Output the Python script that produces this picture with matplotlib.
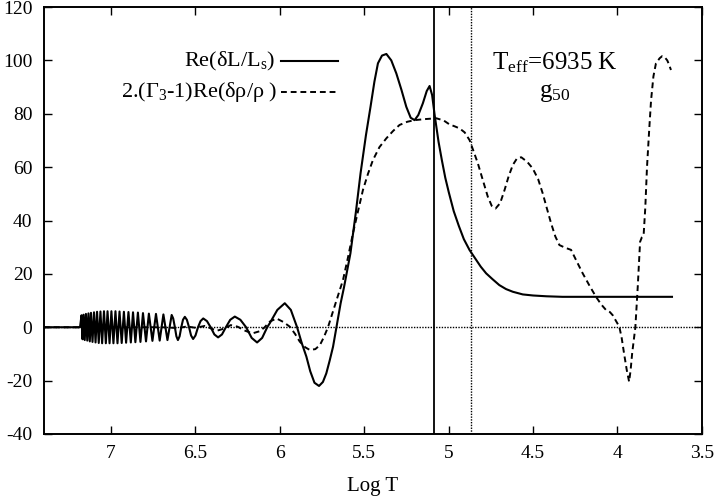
import numpy as np
import matplotlib
matplotlib.use('Agg')
import matplotlib.pyplot as plt

plt.rcParams['font.family'] = ['Liberation Serif', 'DejaVu Serif']
plt.rcParams['mathtext.fontset'] = 'custom'
plt.rcParams['mathtext.rm'] = 'Liberation Serif'
plt.rcParams['mathtext.it'] = 'Liberation Serif:italic'
plt.rcParams['axes.unicode_minus'] = False

# Re(dL/L) - solid curve
logt_L = [7.397, 7.19, 7.184,
          7.175, 7.169, 7.163, 7.156, 7.149, 7.141, 7.134, 7.126, 7.119, 7.110,
          7.101, 7.092, 7.083, 7.073, 7.063, 7.053, 7.042, 7.031, 7.021, 7.009,
          6.998, 6.986, 6.974, 6.962, 6.950, 6.937, 6.924, 6.911, 6.897, 6.883,
          6.870, 6.856, 6.841, 6.826, 6.811, 6.793, 6.776, 6.755, 6.734, 6.712,
          6.690, 6.666,
          6.641, 6.632, 6.622, 6.613, 6.604, 6.594, 6.584, 6.574, 6.563, 6.551,
          6.538, 6.526, 6.514, 6.500, 6.485, 6.470, 6.454, 6.432, 6.41, 6.388,
          6.366, 6.343, 6.32, 6.294, 6.267, 6.234, 6.20, 6.167, 6.135, 6.105,
          6.075, 6.06, 6.015, 5.971, 5.935, 5.898, 5.87, 5.843, 5.82, 5.795,
          5.768, 5.745, 5.725, 5.705, 5.685, 5.665, 5.64, 5.62, 5.582, 5.55,
          5.522, 5.49, 5.463, 5.44, 5.419, 5.395, 5.369, 5.34, 5.310, 5.28,
          5.251, 5.225, 5.202, 5.18, 5.153, 5.13, 5.113, 5.098, 5.083, 5.06,
          5.04, 5.02, 4.999, 4.97, 4.94, 4.91, 4.876, 4.84, 4.81, 4.778,
          4.74, 4.70, 4.66, 4.62, 4.561, 4.50, 4.42, 4.326, 3.677]
re_L = [0.0, 0.0, 0.0,
        4.5, -4.5, 4.7, -4.8, 5.0, -5.0, 5.2, -5.3, 5.4, -5.5,
        5.6, -5.7, 5.8, -5.9, 5.9, -6.0, 6.0, -6.0, 6.0, -6.0,
        6.0, -6.0, 6.0, -6.0, 5.9, -5.9, 5.8, -5.8, 5.7, -5.7,
        5.6, -5.6, 5.5, -5.5, 5.3, -5.3, 5.1, -5.1, 5.0, -5.0,
        4.8, -4.8,
        4.6, 3.3, 0.0, -3.4, -4.8, -3.4, 0.0, 2.8, 3.9, 2.8,
        0.0, -3.1, -4.4, -3.1, 0.0, 2.3, 3.3, 2.3, 0.0, -2.7,
        -3.8, -2.7, 0.0, 2.8, 4.0, 2.8, 0.0, -4.0, -5.7, -4.0,
        0.0, 1.5, 6.5, 9.0, 6.5, 0.0, -6.0, -11.0, -16.5, -20.8,
        -22.0, -20.5, -17.3, -12.5, -7.3, 0.0, 9.0, 15.0, 27.7, 43.0,
        57.7, 72.0, 82.6, 92.0, 98.9, 101.8, 102.4, 100.0, 95.1, 89.0,
        82.6, 78.5, 77.6, 79.5, 83.9, 88.5, 90.4, 87.0, 79.5, 69.5,
        62.5, 56.0, 50.5, 43.5, 38.0, 33.0, 28.9, 25.5, 22.7, 20.2,
        18.0, 15.8, 14.3, 13.3, 12.3, 11.9, 11.6, 11.4, 11.4]

# 2(G3-1)Re(drho/rho) - dashed curve
logt_rho = [7.397, 6.70, 6.60, 6.551, 6.50, 6.444, 6.41, 6.373, 6.33, 6.291,
            6.25, 6.21, 6.163, 6.12, 6.09, 6.06, 6.02, 5.98, 5.941, 5.91,
            5.882, 5.85, 5.823, 5.79, 5.763, 5.74, 5.715, 5.69, 5.66, 5.626,
            5.597, 5.567, 5.537, 5.508, 5.478, 5.449, 5.41, 5.369, 5.33, 5.291,
            5.245, 5.202, 5.14, 5.073, 5.03, 4.995, 4.965, 4.935, 4.905, 4.876,
            4.85, 4.827, 4.797, 4.768, 4.745, 4.722, 4.695, 4.669, 4.645, 4.620,
            4.595, 4.570, 4.535, 4.502, 4.47, 4.443, 4.418, 4.393, 4.368, 4.344,
            4.31, 4.275, 4.24, 4.206, 4.165, 4.127, 4.097, 4.067, 4.045, 4.028,
            4.01, 3.989, 3.975, 3.961, 3.945, 3.931, 3.922, 3.913, 3.894, 3.88,
            3.866, 3.855, 3.845, 3.835, 3.825, 3.812, 3.801, 3.787, 3.772, 3.75,
            3.735, 3.723, 3.705, 3.695, 3.683]
re_rho = [0.0, 0.0, -0.3, 0.3, -0.2, 0.5, -0.4, -1.3, -0.5, 0.8,
          0.2, -1.2, -2.3, -1.5, 0.0, 2.1, 3.3, 2.0, 0.2, -2.5,
          -5.4, -7.5, -8.5, -8.2, -6.7, -3.8, 0.0, 5.0, 11.0, 17.7,
          26.0, 35.2, 43.5, 51.4, 57.5, 62.6, 67.5, 70.8, 73.5, 75.8,
          77.0, 77.6, 78.0, 78.3, 77.5, 76.0, 75.3, 74.5, 73.0, 70.1,
          65.5, 61.4, 55.0, 48.9, 45.5, 44.5, 46.5, 51.4, 56.5, 60.8,
          63.3, 63.7, 62.0, 59.5, 55.5, 50.2, 44.5, 38.9, 34.0, 30.8,
          29.8, 29.0, 24.5, 20.2, 15.5, 11.4, 8.6, 6.4, 5.7, 4.5,
          2.5, 0.2, -4.0, -9.8, -16.0, -20.4, -16.0, -9.8, 0.0, 15.0,
          32.0, 33.8, 34.5, 45.0, 60.0, 74.0, 85.0, 94.0, 98.9, 100.8,
          101.6, 101.4, 100.0, 98.5, 96.4]

v_solid = 5.089
v_dotted = 4.866

fig = plt.figure(figsize=(7.14, 5.0), dpi=100)
ax = fig.add_axes([0.061, 0.132, 0.922, 0.854])

ax.axhline(0, color='black', lw=1.0, ls=(0, (1, 1)))
ax.axvline(v_solid, color='black', lw=1.3)
ax.axvline(v_dotted, color='black', lw=1.0, ls=(0, (1, 1)))

ax.plot(logt_L, re_L, color='black', lw=1.5)
ax.plot(logt_rho, re_rho, color='black', lw=1.4, ls=(0, (3, 2)))

ax.set_xlim(7.4, 3.5)
ax.set_ylim(-40, 120)
ax.set_xticks([7, 6.5, 6, 5.5, 5, 4.5, 4, 3.5])
ax.set_xticklabels(['7', '6.5', '6', '5.5', '5', '4.5', '4', '3.5'])
ax.set_yticks(range(-40, 121, 20))
ax.tick_params(direction='in', length=6, width=1, top=True, right=True,
               labelsize=14, pad=8)
for s in ax.spines.values():
    s.set_linewidth(1.4)
ax.set_xlabel('Log T', fontsize=15, labelpad=11)

# hand-made key, text right of line sample like gnuplot
ax.text(0.352, 0.8735, r'Re(δL/$\mathrm{L_s}$)', transform=ax.transAxes,
        ha='right', va='center', fontsize=16)
ax.plot([0.3608, 0.4474], [0.8735, 0.8735], transform=ax.transAxes,
        color='black', lw=1.5)
ax.text(0.356, 0.801, r'2.($\mathrm{\Gamma_3}$-1)Re(δρ/ρ )', transform=ax.transAxes,
        ha='right', va='center', fontsize=16)
ax.plot([0.3608, 0.4474], [0.801, 0.801], transform=ax.transAxes,
        color='black', lw=1.4, ls=(0, (3, 2)))

ax.text(0.777, 0.869, r'$\mathrm{T_{eff}}$=6935 K', transform=ax.transAxes,
        ha='center', va='center', fontsize=18)
ax.text(0.777, 0.80, r'$\mathrm{g_{50}}$', transform=ax.transAxes,
        ha='center', va='center', fontsize=18)

fig.savefig('out.png', dpi=100)
